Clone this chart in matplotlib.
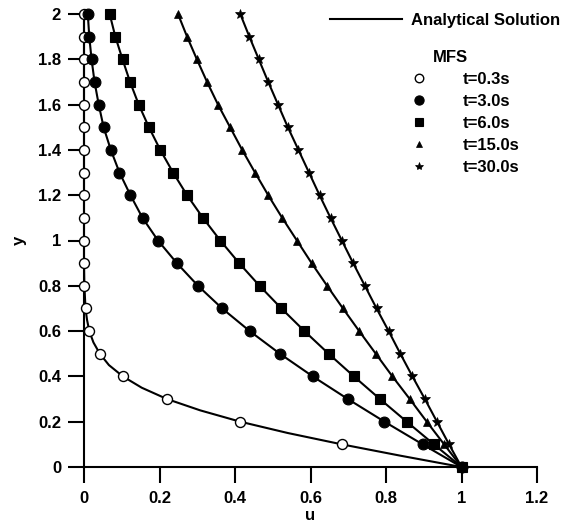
import matplotlib
matplotlib.use("Agg")
import matplotlib.pyplot as plt
from matplotlib.ticker import FuncFormatter

plt.rcParams['font.family'] = ['Liberation Sans', 'DejaVu Sans']
plt.rcParams['font.weight'] = 'bold'

# MFS sample heights
y_mfs = [0.0, 0.1, 0.2, 0.3, 0.4, 0.5, 0.6, 0.7, 0.8, 0.9, 1.0,
         1.1, 1.2, 1.3, 1.4, 1.5, 1.6, 1.7, 1.8, 1.9, 2.0]

u_t03 = [1.0, 0.683, 0.414, 0.220, 0.103, 0.042, 0.014, 0.004, 0.001, 0.0, 0.0,
         0.0, 0.0, 0.0, 0.0, 0.0, 0.0, 0.0, 0.0, 0.0, 0.0]
u_t3 = [1.0, 0.897, 0.796, 0.699, 0.606, 0.519, 0.439, 0.366, 0.302, 0.246, 0.196,
        0.155, 0.123, 0.094, 0.071, 0.052, 0.039, 0.028, 0.020, 0.014, 0.010]
u_t6 = [1.0, 0.927, 0.855, 0.784, 0.715, 0.648, 0.584, 0.523, 0.465, 0.411, 0.361,
        0.315, 0.273, 0.236, 0.202, 0.172, 0.145, 0.122, 0.102, 0.083, 0.068]
u_t15 = [1.0, 0.954, 0.908, 0.863, 0.817, 0.773, 0.729, 0.686, 0.644, 0.603, 0.564,
         0.525, 0.488, 0.453, 0.419, 0.387, 0.355, 0.326, 0.299, 0.273, 0.249]
u_t30 = [1.0, 0.967, 0.935, 0.903, 0.870, 0.838, 0.807, 0.775, 0.744, 0.713, 0.683,
         0.653, 0.624, 0.596, 0.568, 0.540, 0.514, 0.488, 0.463, 0.438, 0.414]

# analytical curve for t=0.3s (finer sampling near the wall)
y_an03 = [0.0, 0.05, 0.1, 0.15, 0.2, 0.25, 0.3, 0.35, 0.4, 0.45, 0.5, 0.55,
          0.6, 0.65, 0.7, 0.8, 0.9, 1.0, 2.0]
u_an03 = [1.0, 0.838, 0.683, 0.540, 0.414, 0.308, 0.220, 0.153, 0.103, 0.066,
          0.042, 0.025, 0.014, 0.008, 0.004, 0.001, 0.0, 0.0, 0.0]

labels = ['t=0.3s', 't=3.0s', 't=6.0s', 't=15.0s', 't=30.0s']
x_ticks = [0, 0.2, 0.4, 0.6, 0.8, 1.0, 1.2]
y_ticks = [0, 0.2, 0.4, 0.6, 0.8, 1.0, 1.2, 1.4, 1.6, 1.8, 2.0]

W, H = 570, 530
FS = 12
fig = plt.figure(figsize=(W / 100, H / 100), dpi=100)
ax = fig.add_axes([84 / W, 1 - 467 / H, (537 - 84) / W, (467 - 14) / H])

lw = 1.5
# analytical lines
ax.plot(u_an03, y_an03, color='black', lw=lw, clip_on=False, zorder=2)
for u in [u_t3, u_t6, u_t15, u_t30]:
    ax.plot(u, y_mfs, color='black', lw=lw, clip_on=False, zorder=2)

styles = [
    dict(marker='o', ms=7.2, mfc='white', mec='black', mew=1.0),
    dict(marker='o', ms=7.8, mfc='black', mec='black', mew=0.8),
    dict(marker='s', ms=7.2, mfc='black', mec='black', mew=0.8),
    dict(marker='^', ms=5.5, mfc='black', mec='black', mew=0.5),
    dict(marker='*', ms=7.2, mfc='black', mec='black', mew=0.5),
]
handles = []
for u, st, lab in zip([u_t03, u_t3, u_t6, u_t15, u_t30], styles, labels):
    h, = ax.plot(u, y_mfs, ls='none', clip_on=False, zorder=3, label=lab, **st)
    handles.append(h)

ax.set_xlim(0, 1.2)
ax.set_ylim(0, 2)
ax.set_xticks(x_ticks)
ax.set_yticks(y_ticks)
fmt = FuncFormatter(lambda v, p: ('%g' % round(v, 2)))
ax.xaxis.set_major_formatter(fmt)
ax.yaxis.set_major_formatter(fmt)

for s in ['top', 'right']:
    ax.spines[s].set_visible(False)
for s in ['left', 'bottom']:
    ax.spines[s].set_linewidth(1.5)

ax.tick_params(axis='both', direction='out', length=11.5, width=1.5, labelsize=FS)
ax.tick_params(axis='x', pad=6)
ax.tick_params(axis='y', pad=5)
for t in ax.get_xticklabels() + ax.get_yticklabels():
    t.set_fontweight('bold')

ax.set_xlabel('u', fontsize=FS, fontweight='bold', labelpad=1)
ax.set_ylabel('y', fontsize=FS, fontweight='bold', labelpad=8)

# legend: analytical line
line_h, = ax.plot([], [], color='black', lw=lw)
leg1 = fig.legend([line_h], ['Analytical Solution'], loc='upper left',
                  bbox_to_anchor=(330 / W, 1 - 13 / H), frameon=False,
                  handlelength=4.3, handletextpad=0.55, borderpad=0,
                  borderaxespad=0, prop={'size': FS, 'weight': 'bold'})
fig.text(433 / W, 1 - 58 / H, 'MFS', fontsize=FS, fontweight='bold',
         ha='left', va='center')
leg2 = fig.legend(handles, labels, loc='upper left',
                  bbox_to_anchor=(414 / W, 1 - 72 / H), frameon=False,
                  numpoints=1, handlelength=0.6, handletextpad=2.33,
                  labelspacing=0.42, borderpad=0, borderaxespad=0,
                  prop={'size': FS, 'weight': 'bold'})
for lh in leg2.legend_handles:
    lh.set_markersize(lh.get_markersize() * 0.85)

fig.savefig('out.png', dpi=100)
